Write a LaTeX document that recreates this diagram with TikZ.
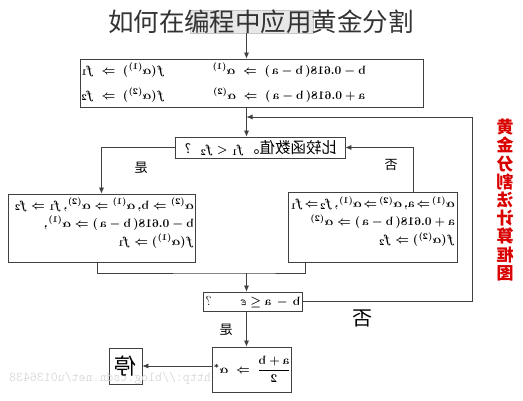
\documentclass[tikz,border=0pt]{standalone}
\usepackage{amsmath,amssymb}
\usepackage{fontspec}
\usetikzlibrary{arrows.meta}
\newfontfamily\cjk{Noto Sans CJK SC}
\newcommand{\fml}{\fontsize{13}{18}\selectfont\boldmath}
\newcommand{\ra}{\;\Rightarrow\;}

\begin{document}
\begin{tikzpicture}[x=1pt,y=-1pt,
		box/.style={draw=black!75,line width=0.8pt,inner sep=0pt},
		arr/.style={-{Latex[length=6pt,width=5pt]},draw=black!75,line width=0.6pt},
		line/.style={draw=black!75,line width=0.6pt},
		txt/.style={inner sep=0pt},
		tag/.style={inner sep=0pt,font=\cjk\fontsize{13}{13}\selectfont}]
		\useasboundingbox (0,0) rectangle (523,400);
		% title over the start box
		\node[box,draw=gray!45,fill=gray!18,minimum width=123pt,minimum height=23pt] (start) at (251.5,21.5) {};
		\node[txt,text=black!80,font=\cjk\fontsize{25.5}{25.5}\selectfont] (title) at (261,22) {如何在编程中应用黄金分割};
		\coordinate (spine) at (246.5,0);
		\coordinate (loop) at (472,117);
		\coordinate (back) at (246.5,117);
		\coordinate (noline) at (413,0);
		\coordinate (lj) at (97,0);
		\coordinate (rj) at (305,0);
		\coordinate (merge) at (246.5,273);
		% the boxes
		\node[box,minimum width=343pt,minimum height=48pt] (init) at (251.5,83) {};
		\node[box,minimum width=170pt,minimum height=21pt] (cmp) at (260,147.5) {};
		\node[box,minimum width=187pt,minimum height=68pt] (yesbox) at (101.5,228) {};
		\node[box,minimum width=169pt,minimum height=70pt] (nobox) at (372.5,227) {};
		\node[box,minimum width=99pt,minimum height=19pt] (eps) at (252.5,301.5) {};
		\node[box,minimum width=79pt,minimum height=45pt] (fin) at (251.5,369.5) {};
		\node[box,minimum width=33pt,minimum height=36pt] (stop) at (125.5,366) {};
		% all texts but the title are printed mirrored
		\begin{scope}[xscale=-1,every node/.append style={transform shape}]
			\node[txt,text=gray!30,font=\ttfamily\fontsize{13.5}{13.5}\selectfont] (wm) at (-110,378) {http://blog.csdn.net/u0136438};
			\node[txt,font=\fml] (init1a) at (-123,70) {$f(\alpha^{(1)})\ra f_1$};
			\node[txt,font=\fml] (init1b) at (-289,70) {$\mathbf b-0.618(\,\mathbf b-\mathbf a\,)\ra\alpha^{(1)}$};
			\node[txt,font=\fml] (init2a) at (-123,95) {$f(\alpha^{(2)})\ra f_2$};
			\node[txt,font=\fml] (init2b) at (-289,95) {$\mathbf a+0.618(\,\mathbf b-\mathbf a\,)\ra\alpha^{(2)}$};
			\node[txt,font=\cjk\fontsize{15.5}{15.5}\selectfont] (cmptext) at (-261,148) {比较函数值。{\fml $f_1<f_2$}\hspace{0.6em}{\fml ?}};
			\node[txt,anchor=west,font=\fml] (yestext) at (-194,223.5) {\begin{tabular}{@{}l@{}}
					$\alpha^{(2)}\Rightarrow\mathbf b,\alpha^{(1)}\Rightarrow\alpha^{(2)},f_1\Rightarrow f_2$\\
					$\mathbf b-0.618(\,\mathbf b-\mathbf a\,)\Rightarrow\alpha^{(1)},$\\
					$f(\alpha^{(1)})\Rightarrow f_1$
				\end{tabular}};
			\node[txt,anchor=west,font=\fml] (notext) at (-455,222) {\begin{tabular}{@{}l@{}}
					$\thickmuskip=2mu\alpha^{(1)}\Rightarrow\mathbf a,\alpha^{(2)}\Rightarrow\alpha^{(1)},f_2\Rightarrow f_1$\\
					$\mathbf a+0.618(\,\mathbf b-\mathbf a\,)\Rightarrow\alpha^{(2)}$\\
					$f(\alpha^{(2)})\Rightarrow f_2$
				\end{tabular}};
			\node[txt,font=\fml] (epstext) at (-253,302) {$\mathbf b\,-\,\mathbf a\le\varepsilon$\hspace{2.2em}?};
			\node[txt,font=\fml] (fintext) at (-252,369) {$\dfrac{\mathbf a+\mathbf b}{2}\ra\alpha^{*}$};
			\node[txt,font=\cjk\fontsize{22}{22}\selectfont] (stoptext) at (-125.5,366) {停};
			% branch labels
			\node[tag] (yes1) at (-141,168) {是};
			\node[tag] (no1) at (-391,165) {否};
			\node[tag,font=\cjk\fontsize{20}{20}\selectfont] (no2) at (-362,318) {否};
			\node[tag] (yes2) at (-226,330) {是};
			% red side caption
			\node[inner sep=0pt,text=red!85!black,align=center,font=\cjk\bfseries\fontsize{17}{18.2}\selectfont] (caption) at (-505,200)
			{黄\\金\\分\\割\\法\\计\\算\\框\\图};
		\end{scope}
		% connectors
		\draw[arr] (start.south -| spine) -- (init.north -| spine);
		\draw[arr] (init.south -| spine) -- (cmp.north -| spine);
		\draw[arr] (eps.east) -| (loop) -- (back);
		\draw[arr] (cmp.west) -| (yesbox.north);
		\draw[arr] (nobox.north -| noline) |- (cmp.east);
		\draw[line] (yesbox.south -| lj) |- (merge) -| (nobox.south -| rj);
		\draw[arr] (merge) -- (eps.north -| merge);
		\draw[arr] (eps.south -| spine) -- (fin.north -| spine);
		\draw[arr] (fin.west |- stop) -- (stop.east);
\end{tikzpicture}
\end{document}
